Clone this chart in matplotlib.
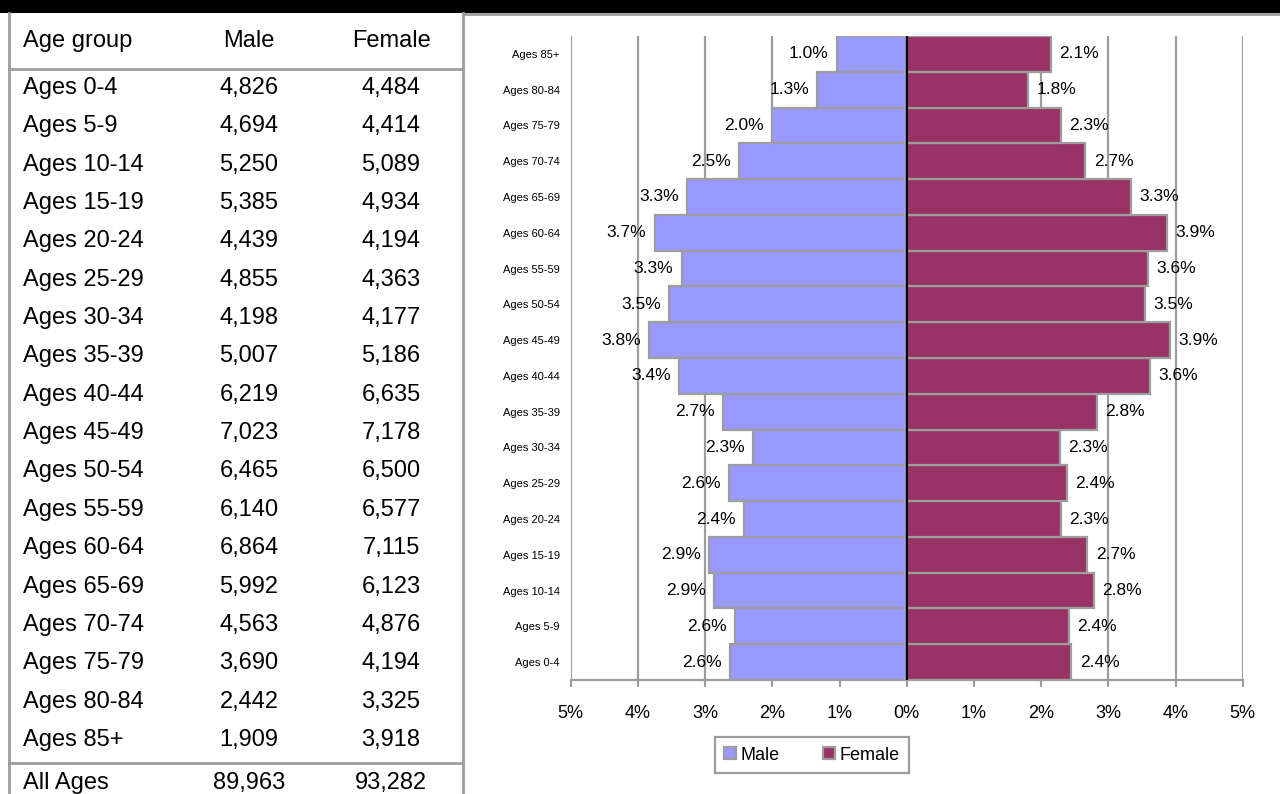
import matplotlib
matplotlib.use("Agg")
import matplotlib.pyplot as plt
from matplotlib.patches import Rectangle
from matplotlib.lines import Line2D
from matplotlib import font_manager

# ---------------- data ----------------
age_groups = ["Ages 0-4", "Ages 5-9", "Ages 10-14", "Ages 15-19", "Ages 20-24",
              "Ages 25-29", "Ages 30-34", "Ages 35-39", "Ages 40-44", "Ages 45-49",
              "Ages 50-54", "Ages 55-59", "Ages 60-64", "Ages 65-69", "Ages 70-74",
              "Ages 75-79", "Ages 80-84", "Ages 85+"]
male_counts = ["4,826", "4,694", "5,250", "5,385", "4,439", "4,855", "4,198", "5,007",
               "6,219", "7,023", "6,465", "6,140", "6,864", "5,992", "4,563", "3,690",
               "2,442", "1,909"]
female_counts = ["4,484", "4,414", "5,089", "4,934", "4,194", "4,363", "4,177", "5,186",
                 "6,635", "7,178", "6,500", "6,577", "7,115", "6,123", "4,876", "4,194",
                 "3,325", "3,918"]
total_label = "All Ages"
male_total = "89,963"
female_total = "93,282"
table_header = ["Age group", "Male", "Female"]

# percent of total population (bar lengths), bottom (0-4) to top (85+)
male_pct = [2.63, 2.56, 2.87, 2.94, 2.42, 2.65, 2.29, 2.73, 3.39, 3.83,
            3.53, 3.35, 3.75, 3.27, 2.49, 2.01, 1.33, 1.04]
female_pct = [2.45, 2.41, 2.78, 2.69, 2.29, 2.38, 2.28, 2.83, 3.62, 3.92,
              3.55, 3.59, 3.88, 3.34, 2.66, 2.29, 1.81, 2.14]
male_labels = ["2.6%", "2.6%", "2.9%", "2.9%", "2.4%", "2.6%", "2.3%", "2.7%", "3.4%", "3.8%",
               "3.5%", "3.3%", "3.7%", "3.3%", "2.5%", "2.0%", "1.3%", "1.0%"]
female_labels = ["2.4%", "2.4%", "2.8%", "2.7%", "2.3%", "2.4%", "2.3%", "2.8%", "3.6%", "3.9%",
                 "3.5%", "3.6%", "3.9%", "3.3%", "2.7%", "2.3%", "1.8%", "2.1%"]
x_ticks = [-5, -4, -3, -2, -1, 0, 1, 2, 3, 4, 5]
x_tick_labels = ["5%", "4%", "3%", "2%", "1%", "0%", "1%", "2%", "3%", "4%", "5%"]
series_names = ["Male", "Female"]

# ---------------- styles ----------------
MALE_C = "#9999FF"
FEMALE_C = "#993366"
GRAY = "#9D9D9D"
W, H = 1280, 794

avail = {f.name for f in font_manager.fontManager.ttflist}
NARROW = ["Liberation Sans Narrow", "Liberation Sans", "DejaVu Sans"] if "Liberation Sans Narrow" in avail \
    else ["Liberation Sans", "DejaVu Sans"]
REG = ["Liberation Sans", "DejaVu Sans"]
plt.rcParams["font.family"] = REG

fig = plt.figure(figsize=(W / 100, H / 100), dpi=100)
fig.patch.set_facecolor("white")

# background / table axes in pixel coordinates
bg = fig.add_axes([0, 0, 1, 1], zorder=0)
bg.set_xlim(0, W)
bg.set_ylim(H, 0)
bg.axis("off")

bg.add_patch(Rectangle((0, 0), W, 13, facecolor="black", edgecolor="none"))
bg.add_line(Line2D([463, W], [14, 14], color=GRAY, lw=2))
bg.add_line(Line2D([8.5, 8.5], [13, H], color=GRAY, lw=2))
bg.add_line(Line2D([463, 463], [13, H], color=GRAY, lw=2))
bg.add_line(Line2D([8.5, 463], [69, 69], color=GRAY, lw=2))
bg.add_line(Line2D([8.5, 463], [763, 763], color=GRAY, lw=2))

TFS = 17
col_x = [23, 249, 391]
bg.text(col_x[0], 41, table_header[0], ha="left", va="center", fontsize=TFS)
bg.text(col_x[1], 41, table_header[1], ha="center", va="center", fontsize=TFS)
bg.text(col_x[2], 41, table_header[2], ha="center", va="center", fontsize=TFS)
row_y0, row_dy = 88, 38.35
for i, (g, m, f) in enumerate(zip(age_groups, male_counts, female_counts)):
    y = row_y0 + i * row_dy
    bg.text(col_x[0], y, g, ha="left", va="center", fontsize=TFS)
    bg.text(col_x[1], y, m, ha="center", va="center", fontsize=TFS)
    bg.text(col_x[2], y, f, ha="center", va="center", fontsize=TFS)
bg.text(col_x[0], 783, total_label, ha="left", va="center", fontsize=TFS)
bg.text(col_x[1], 783, male_total, ha="center", va="center", fontsize=TFS)
bg.text(col_x[2], 783, female_total, ha="center", va="center", fontsize=TFS)

# ---------------- pyramid chart ----------------
left, right, top, bottom = 570.7, 1242.7, 36, 680
ax = fig.add_axes([left / W, 1 - bottom / H, (right - left) / W, (bottom - top) / H], zorder=2)
ax.patch.set_alpha(0)

ypos = list(range(len(age_groups)))
neg_male = [-v for v in male_pct]
ax.barh(ypos, neg_male, height=1.0, color=MALE_C, edgecolor=GRAY, linewidth=1.6,
        label=series_names[0], zorder=2)
ax.barh(ypos, female_pct, height=1.0, color=FEMALE_C, edgecolor=GRAY, linewidth=1.6,
        label=series_names[1], zorder=2)
ax.axvline(0, color="black", lw=1.6, zorder=4)

for y, v, lab in zip(ypos, neg_male, male_labels):
    ax.annotate(lab, xy=(v, y), xytext=(-6, 0), textcoords="offset points",
                ha="right", va="center", fontsize=12.5, family=NARROW, zorder=5)
for y, v, lab in zip(ypos, female_pct, female_labels):
    ax.annotate(lab, xy=(v, y), xytext=(6, 0), textcoords="offset points",
                ha="left", va="center", fontsize=12.5, family=NARROW, zorder=5)

ax.set_xlim(-5, 5)
ax.set_ylim(-0.5, len(age_groups) - 0.5)
ax.set_xticks(x_ticks)
ax.set_xticklabels(x_tick_labels, family=NARROW, fontsize=13)
ax.set_yticks(ypos)
ax.set_yticklabels(age_groups, fontsize=8, family=NARROW)
ax.tick_params(axis="y", length=0, pad=8)
ax.tick_params(axis="x", length=5, width=1.5, color=GRAY, direction="out", pad=13)
ax.grid(axis="x", color=GRAY, lw=1.6, zorder=0)
ax.set_axisbelow(True)
for s in ["top", "right", "left"]:
    ax.spines[s].set_visible(False)
ax.spines["bottom"].set_color(GRAY)
ax.spines["bottom"].set_linewidth(1.6)

leg = ax.legend(loc="center", bbox_to_anchor=(812 / W, 1 - 755 / H), bbox_transform=fig.transFigure,
                ncol=2, frameon=True, fancybox=False, edgecolor=GRAY, framealpha=1,
                prop={"family": NARROW, "size": 13}, handlelength=0.65, handleheight=0.65,
                handletextpad=0.25, columnspacing=2.4, borderpad=0.5, borderaxespad=0)
leg.get_frame().set_linewidth(1.6)

fig.savefig("out.png", dpi=100)
